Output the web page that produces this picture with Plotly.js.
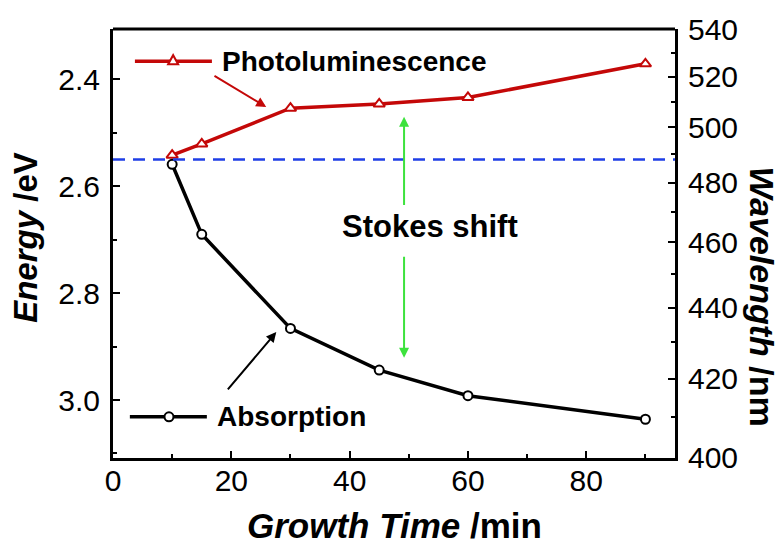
<!DOCTYPE html>
<html>
<head>
<meta charset="utf-8">
<script src="https://cdn.plot.ly/plotly-3.0.1.min.js"></script>
<style>html,body{margin:0;padding:0;background:#fff;}#chart{width:782px;height:546px;}</style>
</head>
<body>
<div id="chart"></div>
<script>
// ---- data ----
const growthTime = [10, 15, 30, 45, 60, 90];                       // min
const plEnergy   = [2.542, 2.521, 2.454, 2.446, 2.434, 2.371];     // eV (Photoluminescence)
const absEnergy  = [2.559, 2.690, 2.866, 2.944, 2.992, 3.036];     // eV (Absorption)
const refEnergy  = 2.55;                                           // eV, dashed reference
const energyTicks = [2.4, 2.6, 2.8, 3.0];
const wavelengthTicks = [400, 420, 440, 460, 480, 500, 520, 540]; // nm
const wavelengthMinor = [410, 430, 450, 470, 490, 510, 530];
const hc = 1240; // eV*nm

const FONT = 'Liberation Sans, Arial, sans-serif';
const RED = '#c40808';

const traces = [
  {
    x: growthTime, y: plEnergy, type: 'scatter', mode: 'lines+markers',
    name: 'Photoluminescence',
    line: {color: RED, width: 3.5},
    marker: {symbol: 'triangle-up', size: 10, color: '#ffffff', line: {color: RED, width: 2}},
    xaxis: 'x', yaxis: 'y'
  },
  {
    x: growthTime, y: absEnergy, type: 'scatter', mode: 'lines+markers',
    name: 'Absorption',
    line: {color: '#000000', width: 3.5},
    marker: {symbol: 'circle', size: 9, color: '#ffffff', line: {color: '#000000', width: 2}},
    xaxis: 'x', yaxis: 'y'
  },
  // carrier for the wavelength axis (no visible marks)
  {x: [null], y: [null], type: 'scatter', mode: 'markers', xaxis: 'x', yaxis: 'y2',
   hoverinfo: 'skip', showlegend: false}
];

const tickFont = {family: FONT, size: 30, color: '#000'};
const labelFont = {family: FONT, size: 28, color: '#000', weight: 'bold'};

const layout = {
  width: 782, height: 546,
  margin: {l: 113, r: 107, t: 29, b: 88},
  paper_bgcolor: '#fff', plot_bgcolor: '#fff',
  showlegend: false,
  xaxis: {
    range: [0, 95], tickmode: 'linear', tick0: 0, dtick: 20,
    ticks: 'inside', ticklen: 7, tickwidth: 2, tickcolor: '#000',
    minor: {dtick: 10, ticks: 'inside', ticklen: 4, tickwidth: 2, tickcolor: '#000'},
    showline: true, linewidth: 3, linecolor: '#000', mirror: false,
    showgrid: false, zeroline: false, tickfont: tickFont, ticklabelstandoff: -6
  },
  yaxis: {
    range: [3.1085, 2.3059], tickmode: 'array', tickvals: energyTicks,
    ticktext: energyTicks.map(v => v.toFixed(1)),
    ticks: 'inside', ticklen: 7, tickwidth: 2, tickcolor: '#000',
    minor: {tickmode: 'linear', tick0: 2.3, dtick: 0.1, ticks: 'inside', ticklen: 4, tickwidth: 2, tickcolor: '#000'},
    showline: true, linewidth: 3, linecolor: '#000',
    showgrid: false, zeroline: false, tickfont: tickFont, ticklabelstandoff: 4
  },
  yaxis2: {
    overlaying: 'y', side: 'right', anchor: 'x',
    range: [3.1008, 2.2950],
    tickmode: 'array', tickvals: wavelengthTicks.map(w => hc / w), ticktext: wavelengthTicks.map(String),
    ticks: 'inside', ticklen: 7, tickwidth: 2, tickcolor: '#000',
    minor: {tickmode: 'array', tickvals: wavelengthMinor.map(w => hc / w), ticks: 'inside', ticklen: 4, tickwidth: 2, tickcolor: '#000'},
    showline: true, linewidth: 3, linecolor: '#000',
    showgrid: false, zeroline: false, tickfont: tickFont, ticklabelstandoff: 4
  },
  shapes: [
    // top frame line
    {type: 'line', xref: 'paper', yref: 'paper', x0: 0, x1: 1, y0: 1, y1: 1,
     line: {color: '#000', width: 3}},
    // dashed reference line
    {type: 'line', xref: 'paper', x0: 0, x1: 1, yref: 'y', y0: refEnergy, y1: refEnergy,
     line: {color: '#1f3fe6', width: 2.5, dash: '12px,8px'}},
    // legend key: Photoluminescence
    {type: 'line', xref: 'paper', yref: 'paper', x0: 0.039, x1: 0.176, y0: 0.925, y1: 0.925,
     line: {color: RED, width: 3.5}},
    {type: 'path', xref: 'paper', yref: 'paper', xsizemode: 'pixel', ysizemode: 'pixel',
     xanchor: 0.107, yanchor: 0.925, path: 'M-5,-3 L5,-3 L0,6 Z',
     fillcolor: '#fff', line: {color: RED, width: 2}},
    // legend key: Absorption
    {type: 'line', xref: 'paper', yref: 'paper', x0: 0.030, x1: 0.167, y0: 0.096, y1: 0.096,
     line: {color: '#000', width: 3.5}},
    {type: 'circle', xref: 'paper', yref: 'paper', xsizemode: 'pixel', ysizemode: 'pixel',
     xanchor: 0.0996, yanchor: 0.096, x0: -4.5, x1: 4.5, y0: -4.5, y1: 4.5,
     fillcolor: '#fff', line: {color: '#000', width: 2}}
  ],
  annotations: [
    {text: 'Photoluminescence', xref: 'paper', yref: 'paper', x: 0.190, y: 0.925,
     xanchor: 'left', yanchor: 'middle', showarrow: false, font: labelFont},
    {text: 'Absorption', xref: 'paper', yref: 'paper', x: 0.181, y: 0.096,
     xanchor: 'left', yanchor: 'middle', showarrow: false, font: labelFont},
    {text: 'Stokes shift', xref: 'paper', yref: 'paper', x: 0.564, y: 0.540,
     xanchor: 'center', yanchor: 'middle', showarrow: false, font: {family: FONT, size: 31, color: '#000', weight: 'bold'}},
    // pointer arrows
    {xref: 'x', yref: 'y', axref: 'x', ayref: 'y', x: 25.9, y: 2.4518, ax: 16.9, ay: 2.392,
     showarrow: true, arrowhead: 2, arrowsize: 1, arrowwidth: 2, arrowcolor: RED, text: ''},
    {xref: 'x', yref: 'y', axref: 'x', ayref: 'y', x: 27.6, y: 2.873, ax: 19.2, ay: 2.983,
     showarrow: true, arrowhead: 2, arrowsize: 1, arrowwidth: 2, arrowcolor: '#000', text: ''},
    // Stokes shift arrows
    {xref: 'x', yref: 'y', axref: 'x', ayref: 'y', x: 49.2, y: 2.470, ax: 49.2, ay: 2.638,
     showarrow: true, arrowhead: 2, arrowsize: 1, arrowwidth: 2, arrowcolor: '#3de23d', text: ''},
    {xref: 'x', yref: 'y', axref: 'x', ayref: 'y', x: 49.2, y: 2.921, ax: 49.2, ay: 2.729,
     showarrow: true, arrowhead: 2, arrowsize: 1, arrowwidth: 2, arrowcolor: '#3de23d', text: ''},
    // axis titles
    {text: '<i>Growth Time</i> /min', xref: 'paper', yref: 'paper', x: 0.5, y: -0.158,
     xanchor: 'center', yanchor: 'middle', showarrow: false, font: {family: FONT, size: 35, color: '#000', weight: 'bold'}},
    {text: '<i>Energy</i> /eV', xref: 'paper', yref: 'paper', x: -0.157, y: 0.515,
     xanchor: 'center', yanchor: 'middle', textangle: -90, showarrow: false, font: {family: FONT, size: 33, color: '#000', weight: 'bold'}},
    {text: '<i>Wavelength</i> /nm', xref: 'paper', yref: 'paper', x: 1.155, y: 0.376,
     xanchor: 'center', yanchor: 'middle', textangle: 90, showarrow: false, font: {family: FONT, size: 34, color: '#000', weight: 'bold'}}
  ]
};

Plotly.newPlot('chart', traces, layout, {displayModeBar: false, staticPlot: true});
</script>
</body>
</html>
